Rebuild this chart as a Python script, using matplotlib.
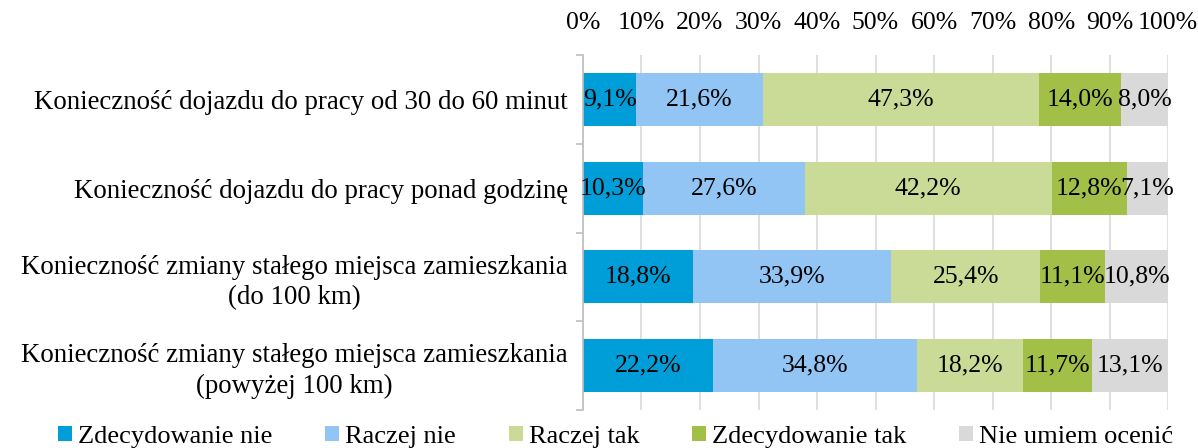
import numpy as np
import matplotlib
matplotlib.use("Agg")
import matplotlib.pyplot as plt

categories = ["Konieczność dojazdu do pracy od 30 do 60 minut",
              "Konieczność dojazdu do pracy ponad godzinę",
              "Konieczność zmiany stałego miejsca zamieszkania\n(do 100 km)",
              "Konieczność zmiany stałego miejsca zamieszkania\n(powyżej 100 km)"]
series = ["Zdecydowanie nie", "Raczej nie", "Raczej tak", "Zdecydowanie tak", "Nie umiem ocenić"]
zdecydowanie_nie = [9.1, 10.3, 18.8, 22.2]
raczej_nie = [21.6, 27.6, 33.9, 34.8]
raczej_tak = [47.3, 42.2, 25.4, 18.2]
zdecydowanie_tak = [14.0, 12.8, 11.1, 11.7]
nie_umiem = [8.0, 7.1, 10.8, 13.1]
colors = ["#009ED8", "#92C5F4", "#C9DB96", "#A2BF47", "#D9D9D9"]

plt.rcParams.update({"font.family": ["Liberation Serif", "DejaVu Serif"], "font.size": 19})

fig = plt.figure(figsize=(11.98, 4.48), dpi=100)
ax = fig.add_axes([0.4866, 0.085, 0.4885, 0.792])

vals = np.array([zdecydowanie_nie, raczej_nie, raczej_tak, zdecydowanie_tak, nie_umiem])
totals = vals.sum(axis=0)
y = np.arange(len(categories))
left = np.zeros(len(categories))
for i, name in enumerate(series):
    w = vals[i] / totals * 100
    ax.barh(y, w, 0.6, left=left, color=colors[i], label=name, zorder=2)
    for yy, l, ww, v in zip(y, left, w, vals[i]):
        ax.text(l + ww / 2, yy, f"{v:.1f}%".replace(".", ","), ha="center", va="center",
                fontsize=18.5, color="black", zorder=3)
    left += w

ax.set_xlim(0, 100)
ax.set_ylim(len(categories) - 0.5, -0.5)
ax.set_xticks(np.arange(0, 101, 10))
ax.set_xticklabels([f"{t}%" for t in range(0, 101, 10)], fontsize=18.5)
ax.xaxis.tick_top()
ax.tick_params(axis="x", length=0, pad=15)
ax.grid(axis="x", color="#D9D9D9", lw=1.2, zorder=0)
ax.set_yticks(y)
ax.set_yticklabels(categories, multialignment="center", linespacing=1.3, fontsize=19.4)
ax.tick_params(axis="y", length=0, pad=11)
ax.set_yticks(np.arange(-0.5, len(categories), 1), minor=True)
ax.tick_params(axis="y", which="minor", length=5, color="#BFBFBF", width=1.2)
for s in ["top", "right", "bottom"]:
    ax.spines[s].set_visible(False)
ax.spines["left"].set_color("#BFBFBF")
ax.spines["left"].set_linewidth(1.2)

fig.legend(loc="center", bbox_to_anchor=(0.514, 0.025), ncol=5, frameon=False,
           handlelength=0.53, handleheight=0.53, handletextpad=0.23, columnspacing=2.0,
           borderpad=0, fontsize=19)

fig.savefig("out.png", dpi=100)
